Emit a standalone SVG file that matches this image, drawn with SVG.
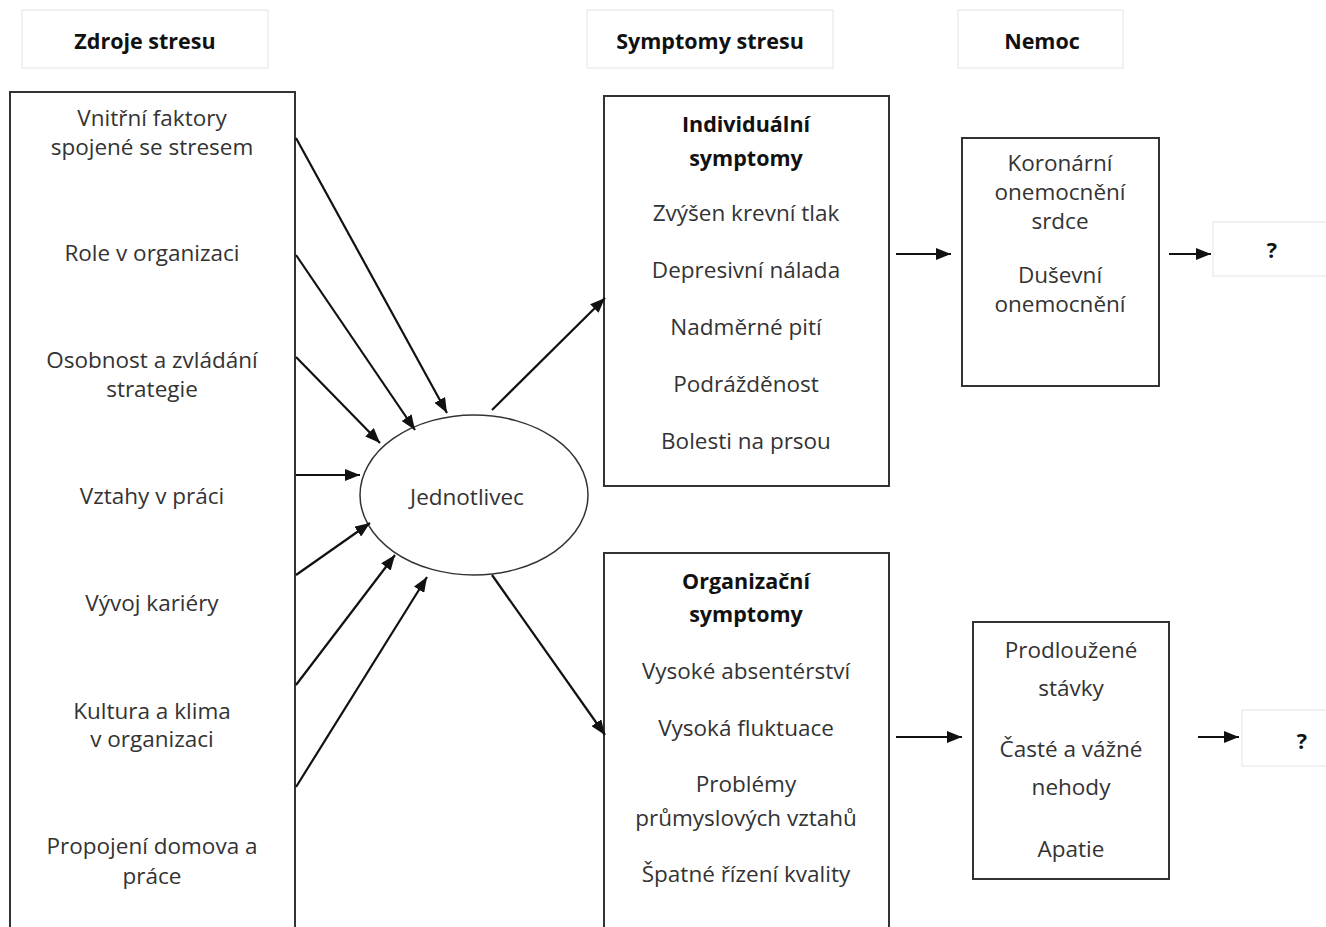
<svg xmlns="http://www.w3.org/2000/svg" width="1326" height="927" viewBox="0 0 1326 927">
<style>
.t{font-family:"Open Sans","Noto Sans",sans-serif;font-size:22.5px;fill:#333;text-anchor:middle;dominant-baseline:central}
.b{font-weight:bold;fill:#111;font-size:21.5px}
.hdr{fill:#fff;stroke:#e4e4e4;stroke-width:1}
.box{fill:#fff;stroke:#333;stroke-width:2}
.c line{stroke:#111;stroke-width:2.2;marker-end:url(#ah)}
</style>
<defs>
<marker id="ah" viewBox="0 0 15 12" refX="15" refY="6" markerWidth="15" markerHeight="12" markerUnits="userSpaceOnUse" orient="auto">
<path d="M0,0 L15,6 L0,12 z" fill="#111"/>
</marker>
</defs>
<rect width="1326" height="927" fill="#fff"/>
<g id="hdr-zdroje"><rect class="hdr" x="22" y="10" width="246" height="58"/><text class="t b" x="145" y="40">Zdroje stresu</text></g>
<g id="hdr-symptomy"><rect class="hdr" x="587" y="10" width="246" height="58"/><text class="t b" x="710" y="40">Symptomy stresu</text></g>
<g id="hdr-nemoc"><rect class="hdr" x="958" y="10" width="165" height="58"/><text class="t b" x="1042" y="40">Nemoc</text></g>

<g id="zdroje">
<rect class="box" x="10" y="92" width="285" height="850"/>
<text class="t" x="152" y="117">Vnitřní faktory</text>
<text class="t" x="152" y="146">spojené se stresem</text>
<text class="t" x="152" y="252">Role v organizaci</text>
<text class="t" x="152" y="359">Osobnost a zvládání</text>
<text class="t" x="152" y="388">strategie</text>
<text class="t" x="152" y="495">Vztahy v práci</text>
<text class="t" x="152" y="602">Vývoj kariéry</text>
<text class="t" x="152" y="710">Kultura a klima</text>
<text class="t" x="152" y="738">v organizaci</text>
<text class="t" x="152" y="845">Propojení domova a</text>
<text class="t" x="152" y="875">práce</text>
</g>

<g id="jednotlivec">
<ellipse cx="474" cy="495" rx="114" ry="80" fill="#fff" stroke="#333" stroke-width="1.5"/>
<text class="t" x="467" y="496">Jednotlivec</text>
</g>

<g id="individualni">
<rect class="box" x="604" y="96" width="285" height="390"/>
<text class="t b" x="746" y="123">Individuální</text>
<text class="t b" x="746" y="157">symptomy</text>
<text class="t" x="746" y="212">Zvýšen krevní tlak</text>
<text class="t" x="746" y="269">Depresivní nálada</text>
<text class="t" x="746" y="326">Nadměrné pití</text>
<text class="t" x="746" y="383">Podrážděnost</text>
<text class="t" x="746" y="440">Bolesti na prsou</text>
</g>

<g id="organizacni">
<rect class="box" x="604" y="553" width="285" height="400"/>
<text class="t b" x="746" y="580">Organizační</text>
<text class="t b" x="746" y="613">symptomy</text>
<text class="t" x="746" y="670">Vysoké absentérství</text>
<text class="t" x="746" y="727">Vysoká fluktuace</text>
<text class="t" x="746" y="783">Problémy</text>
<text class="t" x="746" y="817">průmyslových vztahů</text>
<text class="t" x="746" y="873">Špatné řízení kvality</text>
</g>

<g id="nemoc-ind">
<rect class="box" x="962" y="138" width="197" height="248"/>
<text class="t" x="1060" y="162">Koronární</text>
<text class="t" x="1060" y="191">onemocnění</text>
<text class="t" x="1060" y="220">srdce</text>
<text class="t" x="1060" y="274">Duševní</text>
<text class="t" x="1060" y="303">onemocnění</text>
</g>

<g id="nemoc-org">
<rect class="box" x="973" y="622" width="196" height="257"/>
<text class="t" x="1071" y="649">Prodloužené</text>
<text class="t" x="1071" y="687">stávky</text>
<text class="t" x="1071" y="748">Časté a vážné</text>
<text class="t" x="1071" y="786">nehody</text>
<text class="t" x="1071" y="848">Apatie</text>
</g>

<g id="q1"><rect class="hdr" x="1213" y="222" width="120" height="54"/><text class="t b" x="1272" y="249">?</text></g>
<g id="q2"><rect class="hdr" x="1242" y="710" width="90" height="56"/><text class="t b" x="1302" y="740">?</text></g>

<g id="connectors" class="c">
<line x1="296" y1="138" x2="447" y2="413"/>
<line x1="296" y1="255" x2="415" y2="430"/>
<line x1="296" y1="357" x2="380" y2="443"/>
<line x1="296" y1="475" x2="360" y2="475"/>
<line x1="296" y1="575" x2="370" y2="523"/>
<line x1="296" y1="685" x2="395" y2="555"/>
<line x1="296" y1="787" x2="427" y2="577"/>
<line x1="492" y1="410" x2="605" y2="298"/>
<line x1="492" y1="575" x2="605" y2="735"/>
<line x1="896" y1="254" x2="951" y2="254"/>
<line x1="1169" y1="254" x2="1211" y2="254"/>
<line x1="896" y1="737" x2="962" y2="737"/>
<line x1="1198" y1="737" x2="1239" y2="737"/>
</g>
</svg>
